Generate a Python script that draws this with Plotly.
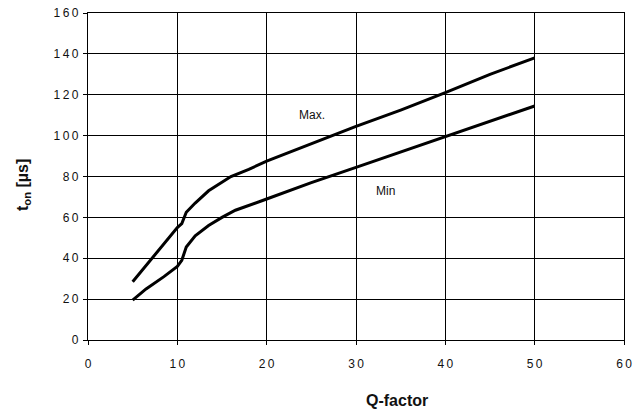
import plotly.graph_objects as go

# Data
q_max = [5, 7.5, 10, 10.5, 11, 12, 13.5, 16, 18, 20, 25, 30, 35, 40, 45, 50]
t_max = [28.5, 42, 55, 57, 62.5, 67, 73, 80, 83.5, 87.5, 96, 104.5, 112.5, 121, 130, 138]

q_min = [5, 6.5, 8.5, 10, 10.5, 11, 12, 13.5, 15, 16.5, 20, 25, 30, 35, 40, 45, 50]
t_min = [19.5, 25, 31, 36, 39, 45.5, 51, 56, 60, 63.5, 69, 77, 84.5, 92, 99.5, 107, 114.5]

x_ticks = [0, 10, 20, 30, 40, 50, 60]
y_ticks = [0, 20, 40, 60, 80, 100, 120, 140, 160]

def spaced(v):
    return "\u2009".join(str(v))

fig = go.Figure()
fig.add_trace(go.Scatter(x=q_max, y=t_max, mode='lines', line=dict(color='black', width=3), name='Max.'))
fig.add_trace(go.Scatter(x=q_min, y=t_min, mode='lines', line=dict(color='black', width=3), name='Min'))

font_family = 'Liberation Sans, Arial, sans-serif'
axis_font = dict(family=font_family, size=12, color='#111')

W, H = 634, 412
L, T = 88, 13
pw, ph = 536, 327
R, B = W - L - pw, H - T - ph

fig.update_layout(
    width=W, height=H,
    margin=dict(l=L, r=R, t=T, b=B),
    plot_bgcolor='white', paper_bgcolor='white',
    showlegend=False,
    xaxis=dict(range=[0, 60], tickvals=x_ticks, ticktext=[spaced(v) for v in x_ticks],
               showgrid=True, gridcolor='black', gridwidth=1.4, zeroline=False,
               showline=True, linecolor='black', linewidth=1.4, mirror=True,
               ticks='outside', ticklen=4, tickcolor='black', tickfont=axis_font,
               ticklabelstandoff=8, automargin=False, ticklabeloverflow='allow'),
    yaxis=dict(range=[0, 160], tickvals=y_ticks, ticktext=[spaced(v) for v in y_ticks],
               showgrid=True, gridcolor='black', gridwidth=1.4, zeroline=False,
               showline=True, linecolor='black', linewidth=1.4, mirror=True,
               ticks='outside', ticklen=4, tickcolor='black', tickfont=axis_font,
               ticklabelstandoff=2, automargin=False, ticklabeloverflow='allow'),
)

# Curve labels
fig.add_annotation(x=25.1, y=110, text='Max.', showarrow=False,
                   font=dict(family=font_family, size=12, color='#111'))
fig.add_annotation(x=33.3, y=73, text='Min', showarrow=False,
                   font=dict(family=font_family, size=12, color='#111'))

# Axis titles (positioned in pixel terms relative to the plot area)
fig.add_annotation(x=(397 - L) / pw, y=(T + ph - 400) / ph, xref='paper', yref='paper',
                   text='<b>Q-factor</b>', showarrow=False, xanchor='center', yanchor='middle',
                   font=dict(family=font_family, size=16, color='#111'))
fig.add_annotation(x=(23 - L) / pw, y=(T + ph - 185) / ph, xref='paper', yref='paper',
                   text='<b>t<sub>on</sub> [µs]</b>', showarrow=False, textangle=-90,
                   xanchor='center', yanchor='middle',
                   font=dict(family=font_family, size=16, color='#111'))

# drop the default page margin so the figure sits at the window's top-left corner
fig.write_html("out.html", config={'displayModeBar': False},
               post_script="document.body.style.margin='0';")
